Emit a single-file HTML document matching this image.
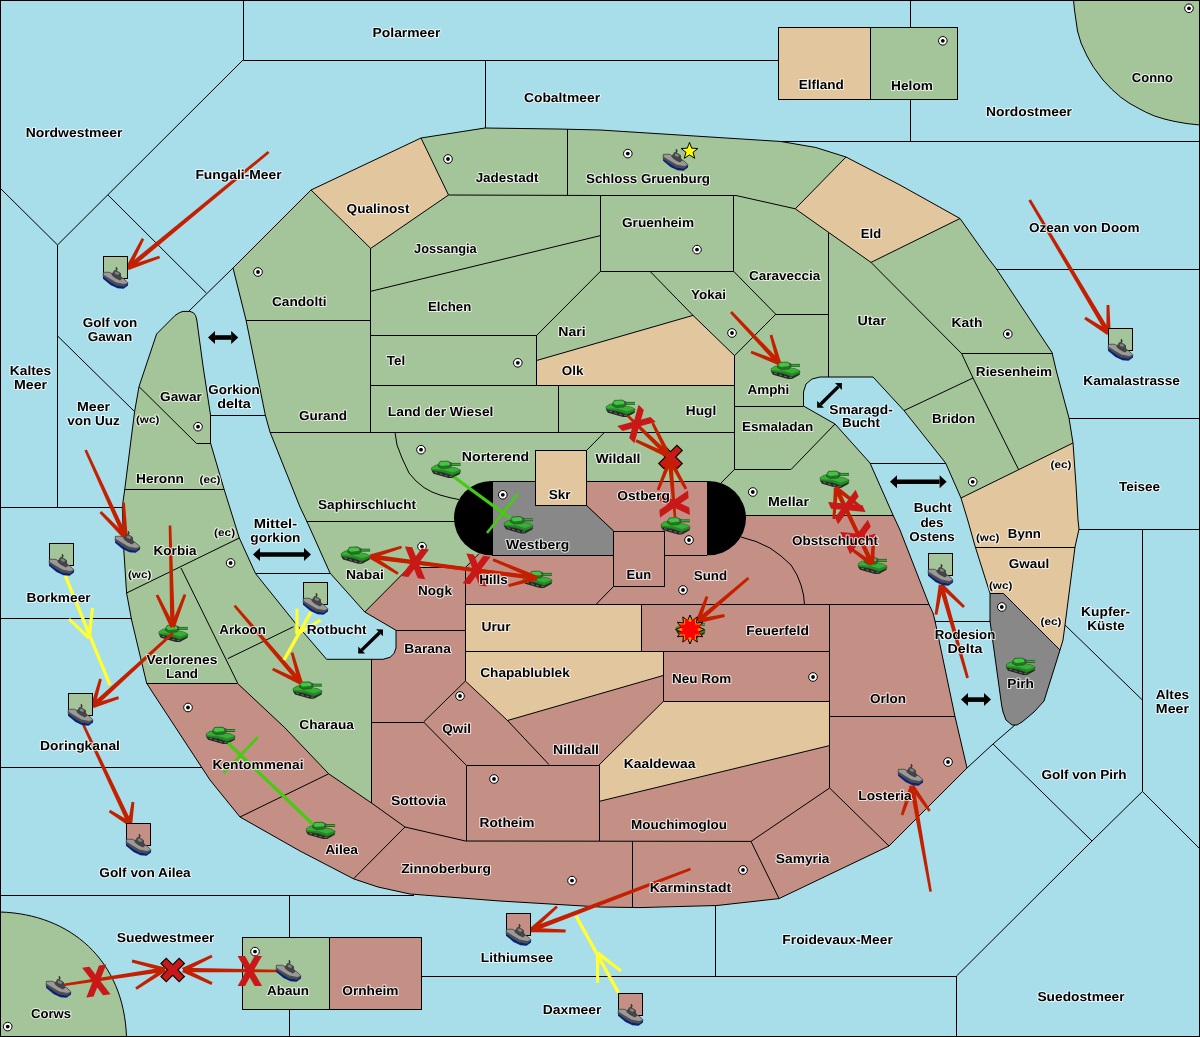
<!DOCTYPE html>
<html><head><meta charset="utf-8"><title>Map</title>
<style>html,body{margin:0;padding:0;background:#A8DDEA}svg{display:block}</style></head>
<body><svg width="1200" height="1037" viewBox="0 0 1200 1037" text-rendering="geometricPrecision">
<rect width="1200" height="1037" fill="#A8DDEA"/>
<g>
<polygon points="233.0,268.0 311.0,190.0 421.0,138.0 485.0,128.0 557.0,129.0 600.0,130.0 781.0,141.5 815.8,147.5 846.0,157.0 900.0,185.0 960.0,218.5 988.0,258.0 996.5,269.0 1052.0,352.5 1056.6,372.0 1069.0,418.0 1073.0,443.0 1076.0,485.0 1078.0,520.0 1079.0,529.0 1075.0,547.0 1065.0,625.0 1063.0,640.0 1060.0,650.0 1044.0,701.0 1034.0,712.0 1022.0,722.0 1017.0,725.0 1012.0,725.0 1006.0,720.0 1003.0,712.0 1001.6,705.0 990.0,621.0 990.0,593.4 975.0,546.0 967.7,520.0 961.0,498.0 945.6,463.0 904.0,410.6 873.0,377.0 820.0,377.0 812.0,379.0 806.0,384.0 803.5,392.0 803.5,406.0 835.0,424.0 870.0,463.0 893.0,515.0 900.0,530.0 929.0,604.4 933.0,613.0 935.0,621.0 955.0,716.6 967.0,768.0 900.0,835.0 889.0,846.0 779.0,898.6 717.0,905.5 640.0,907.6 600.0,907.0 500.0,901.0 410.0,894.0 378.0,887.0 353.5,878.8 300.0,851.0 240.0,817.0 210.0,780.0 151.0,690.0 146.6,683.0 131.6,620.0 126.6,593.0 123.8,550.0 122.3,507.0 124.8,489.0 134.6,411.6 139.0,386.6 156.6,334.0 175.0,315.5 179.5,312.6 183.0,311.4 190.0,311.4 193.5,312.8 195.6,315.6 196.8,320.0 203.0,366.0 210.5,415.0 210.5,443.0 224.0,489.0 239.3,538.0 255.5,573.5 293.6,621.0 326.6,659.3 383.0,659.3 390.0,657.3 394.0,653.5 396.0,648.0 396.0,630.3 364.8,612.0 330.0,573.0 306.7,521.0 300.0,507.0 270.0,432.0 265.4,415.4 246.0,320.0" fill="#A4C499"/>
<polygon points="146.6,683.0 237.6,683.0 284.7,727.6 328.7,773.8 371.5,803.0 371.5,659.3 383.0,659.3 390.0,657.3 394.0,653.5 396.0,648.0 396.0,630.3 364.8,612.0 409.0,567.0 465.4,567.0 479.0,553.6 479.0,518.0 745.0,518.0 745.0,515.0 893.0,515.0 900.0,530.0 929.0,604.4 933.0,613.0 935.0,621.0 955.0,716.6 967.0,768.0 900.0,835.0 889.0,846.0 779.0,898.6 717.0,905.5 640.0,907.6 600.0,907.0 500.0,901.0 410.0,894.0 378.0,887.0 353.5,878.8 300.0,851.0 240.0,817.0 210.0,780.0 151.0,690.0" fill="#C48F85"/>
<polygon points="311.0,190.0 421.0,138.0 448.5,195.0 370.7,248.4" fill="#E2C69E"/>
<polygon points="846.0,157.0 900.0,185.0 960.0,218.5 871.0,262.4 795.3,208.8" fill="#E2C69E"/>
<polygon points="536.6,360.5 693.0,315.4 734.6,355.7 734.6,385.3 536.6,385.3" fill="#E2C69E"/>
<polygon points="961.0,498.0 1073.0,443.0 1076.0,485.0 1078.0,520.0 1079.0,529.0 1075.0,547.0 1065.0,625.0 1063.0,640.0 1060.0,650.0 1003.5,593.4 990.0,593.4 975.0,546.0 967.7,520.0" fill="#E2C69E"/>
<polygon points="990.0,593.4 1003.5,593.4 1060.0,650.0 1044.0,701.0 1034.0,712.0 1022.0,722.0 1017.0,725.0 1012.0,725.0 1006.0,720.0 1003.0,712.0 1001.6,705.0 990.0,621.0" fill="#888888"/>
<polygon points="465.4,604.4 641.4,604.4 641.4,651.0 465.4,651.0" fill="#E2C69E"/>
<polygon points="465.4,651.0 663.6,651.0 663.6,675.4 507.5,720.5 465.4,681.0" fill="#E2C69E"/>
<polygon points="663.6,701.2 829.6,701.2 829.6,745.6 599.0,801.4 599.0,765.0" fill="#E2C69E"/>
<rect x="454" y="481" width="292" height="74.2" rx="37.5" ry="37.1" fill="#000"/>
<polygon points="492.0,481.0 586.5,481.0 586.5,505.4 613.6,531.0 613.6,555.0 492.0,555.0" fill="#888888"/>
<polygon points="586.5,481.0 707.0,481.0 707.0,555.0 664.6,555.0 664.6,531.0 613.6,531.0 586.5,505.4" fill="#C48F85"/>
<polygon points="535.3,450.5 586.5,450.5 586.5,505.4 535.3,505.4" fill="#E2C69E"/>
<path d="M1073.5,0 L1074.5,10 L1077.5,31 L1081,43 L1087,56 L1093.7,67.5 L1103,80 L1111.5,89 L1120.7,97.2 L1129,103 L1137,107.5 L1145.5,112 L1154.5,116 L1165,119.2 L1175,121.5 L1187,123.6 L1200,125 L1200,0 Z" fill="#A4C499" stroke="#000" stroke-linejoin="round"/>
<path d="M0,912 C70,914 124,960 126.5,1037 L0,1037 Z" fill="#A4C499" stroke="#000"/>
<path d="M243.5,0.0 L243.5,60.5 L778.4,60.5 M243.0,60.0 L57.5,245.0 L57.5,507.0 M0.0,188.0 L57.6,245.0 M0.0,507.5 L122.3,507.5 M108.0,195.0 L206.3,293.0 M233.0,268.0 L189.0,311.0 M57.6,336.0 L134.6,411.6 M485.5,60.0 L485.5,128.0 M910.5,0.0 L910.5,141.4 M780.0,141.5 L1200.0,141.5 M996.5,269.5 L1200.0,269.5 M1069.0,418.5 L1200.0,418.5 M1079.0,529.5 L1200.0,529.5 M1142.5,529.4 L1142.5,791.5 L1200.0,849.0 M1065.0,625.0 L1142.4,700.0 M1142.4,791.5 L1092.0,841.0 L956.5,976.0 L956.5,1037.0 M993.0,744.0 L1092.0,841.0 M1015.0,725.0 L993.0,744.0 L967.0,768.0 M421.6,976.5 L956.6,976.5 M715.5,906.0 L715.5,976.0 M0.0,895.5 L414.0,895.5 M289.5,895.3 L289.5,1037.0 M0.0,767.5 L202.0,767.5 M0.0,618.5 L131.3,618.5 M210.0,415.5 L265.4,415.5 M255.5,573.5 L330.0,573.5 M870.0,463.5 L945.6,463.5 M935.0,621.5 L990.0,621.5 M233.0,268.0 L311.0,190.0 L421.0,138.0 L485.0,128.0 L557.0,129.0 L600.0,130.0 L781.0,141.5 L815.8,147.5 L846.0,157.0 L900.0,185.0 L960.0,218.5 L988.0,258.0 L996.5,269.0 L1052.0,352.5 L1056.6,372.0 L1069.0,418.0 L1073.0,443.0 L1076.0,485.0 L1078.0,520.0 L1079.0,529.0 L1075.0,547.0 L1065.0,625.0 L1063.0,640.0 L1060.0,650.0 L1044.0,701.0 L1034.0,712.0 L1022.0,722.0 L1017.0,725.0 L1012.0,725.0 L1006.0,720.0 L1003.0,712.0 L1001.6,705.0 L990.0,621.0 L990.0,593.4 L975.0,546.0 L967.7,520.0 L961.0,498.0 L945.6,463.0 L904.0,410.6 L873.0,377.0 L820.0,377.0 L812.0,379.0 L806.0,384.0 L803.5,392.0 L803.5,406.0 L835.0,424.0 L870.0,463.0 L893.0,515.0 L900.0,530.0 L929.0,604.4 L933.0,613.0 L935.0,621.0 L955.0,716.6 L967.0,768.0 L900.0,835.0 L889.0,846.0 L779.0,898.6 L717.0,905.5 L640.0,907.6 L600.0,907.0 L500.0,901.0 L410.0,894.0 L378.0,887.0 L353.5,878.8 L300.0,851.0 L240.0,817.0 L210.0,780.0 L151.0,690.0 L146.6,683.0 L131.6,620.0 L126.6,593.0 L123.8,550.0 L122.3,507.0 L124.8,489.0 L134.6,411.6 L139.0,386.6 L156.6,334.0 L175.0,315.5 L179.5,312.6 L183.0,311.4 L190.0,311.4 L193.5,312.8 L195.6,315.6 L196.8,320.0 L203.0,366.0 L210.5,415.0 L210.5,443.0 L224.0,489.0 L239.3,538.0 L255.5,573.5 L293.6,621.0 L326.6,659.3 L383.0,659.3 L390.0,657.3 L394.0,653.5 L396.0,648.0 L396.0,630.3 L364.8,612.0 L330.0,573.0 L306.7,521.0 L300.0,507.0 L270.0,432.0 L265.4,415.4 L246.0,320.0 Z M311.0,190.0 L370.7,248.4 L448.5,195.0 L421.0,138.0 M448.5,195.0 L600.5,195.5 M567.5,129.0 L567.5,195.3 M370.5,248.4 L370.5,432.3 M370.7,291.3 L600.5,235.6 M600.5,195.5 L600.5,271.3 M600.5,195.5 L736.0,195.5 L795.3,208.8 L846.0,157.0 M733.5,195.5 L733.5,271.3 M600.5,271.5 L733.6,271.5 M795.3,208.8 L871.0,262.4 L960.0,218.5 M871.0,262.4 L961.6,353.5 M828.5,233.0 L828.5,377.0 M246.0,320.5 L370.7,320.5 M270.0,432.5 L734.6,432.5 M370.7,335.5 L536.6,335.5 L600.5,271.3 M536.5,335.2 L536.5,385.3 M370.7,385.5 L734.6,385.5 M536.6,360.5 L693.0,315.4 M650.0,271.3 L693.0,315.4 L734.6,355.7 M733.6,271.3 L776.0,314.5 L828.5,314.5 M776.0,314.0 L734.5,355.7 L734.5,469.3 M558.5,385.3 L558.5,432.3 M734.6,406.5 L803.5,406.5 M734.6,469.5 L791.0,469.5 L835.0,424.0 M734.6,469.3 L721.0,483.0 M586.5,450.5 L604.5,432.3 M395.0,432.3 L397.0,445.0 L402.0,458.0 L409.0,473.0 L416.0,481.0 L424.0,487.6 L432.0,492.0 L440.0,495.0 L450.0,497.7 L459.0,499.5 M961.6,353.5 L1052.6,353.5 M961.6,353.5 L973.0,378.0 L1018.6,469.6 M904.0,410.6 L973.0,378.0 M961.0,498.0 L1073.0,443.0 M975.6,547.5 L1075.0,547.5 M990.0,593.5 L1003.5,593.5 L1060.0,650.0 M139.0,386.6 L196.5,443.5 L210.5,443.5 M124.8,489.5 L224.0,489.5 M126.6,593.0 L239.3,538.0 M181.0,568.0 L237.6,683.0 M146.6,683.5 L237.6,683.5 L284.7,727.6 L328.7,773.8 L371.5,803.0 L405.0,827.0 M227.8,658.6 L293.6,626.7 M240.0,817.0 L328.7,773.8 M353.5,878.8 L405.0,827.0 L465.4,841.0 L751.0,841.4 M371.5,659.0 L371.5,803.0 M371.5,722.5 L423.6,722.5 M306.7,521.5 L455.0,521.5 M364.8,612.0 L409.0,567.5 L465.4,567.5 L479.0,553.6 M465.5,567.0 L465.5,681.0 M396.0,630.5 L465.4,630.5 M465.4,604.5 L929.0,604.5 M465.4,651.5 L829.6,651.5 M641.5,604.4 L641.5,651.0 M663.5,651.0 L663.5,701.5 L829.6,701.5 M829.5,604.4 L829.5,788.0 M829.6,716.5 L955.0,716.5 M465.4,681.0 L507.5,720.5 L663.6,675.4 M423.6,722.0 L465.4,681.0 M507.5,720.5 L549.0,764.6 M423.6,722.0 L466.0,765.0 M466.5,841.0 L466.5,765.5 L599.5,765.5 L599.5,841.0 M663.6,701.2 L599.0,765.0 M829.6,745.6 L599.0,801.4 M632.5,841.4 L632.5,907.0 M751.0,841.4 L779.0,898.6 M751.0,841.4 L829.6,788.0 L889.0,846.0 M745.0,515.5 L893.0,515.5 M741.0,537.0 L756.0,541.5 L770.0,548.0 L781.0,556.0 L791.0,565.0 L797.0,575.0 L801.0,585.0 L803.5,595.0 L804.5,604.4 M613.6,586.4 L596.0,604.4 M492.5,481.0 L492.5,555.0 M707.5,481.0 L707.5,555.0 M492.0,555.5 L613.6,555.5 M664.6,555.5 L707.0,555.5 M586.5,481.5 L707.0,481.5 M492.0,481.5 L535.3,481.5 M586.5,505.4 L613.6,531.0" fill="none" stroke="#000" stroke-width="1"/>
<rect x="535.5" y="450.5" width="51.0" height="55.0" fill="#E2C69E" stroke="#000"/>
<rect x="613.5" y="531.5" width="51.0" height="55.0" fill="#C48F85" stroke="#000"/>
<rect x="778.5" y="27.5" width="92.0" height="72.0" fill="#E2C69E" stroke="#000"/>
<rect x="870.5" y="27.5" width="87.0" height="72.0" fill="#A4C499" stroke="#000"/>
<rect x="242.5" y="937.5" width="87.0" height="72.0" fill="#A4C499" stroke="#000"/>
<rect x="329.5" y="937.5" width="92.0" height="72.0" fill="#C48F85" stroke="#000"/>
<circle cx="448.0" cy="159.0" r="4.3" fill="#fff" stroke="#000" stroke-width="1"/><circle cx="448.0" cy="159.0" r="1.9" fill="#000"/>
<circle cx="627.8" cy="153.6" r="4.3" fill="#fff" stroke="#000" stroke-width="1"/><circle cx="627.8" cy="153.6" r="1.9" fill="#000"/>
<circle cx="697.0" cy="249.6" r="4.3" fill="#fff" stroke="#000" stroke-width="1"/><circle cx="697.0" cy="249.6" r="1.9" fill="#000"/>
<circle cx="942.8" cy="40.8" r="4.3" fill="#fff" stroke="#000" stroke-width="1"/><circle cx="942.8" cy="40.8" r="1.9" fill="#000"/>
<circle cx="1189.0" cy="8.3" r="4.3" fill="#fff" stroke="#000" stroke-width="1"/><circle cx="1189.0" cy="8.3" r="1.9" fill="#000"/>
<circle cx="258.0" cy="272.0" r="4.3" fill="#fff" stroke="#000" stroke-width="1"/><circle cx="258.0" cy="272.0" r="1.9" fill="#000"/>
<circle cx="198.0" cy="426.7" r="4.3" fill="#fff" stroke="#000" stroke-width="1"/><circle cx="198.0" cy="426.7" r="1.9" fill="#000"/>
<circle cx="517.8" cy="362.8" r="4.3" fill="#fff" stroke="#000" stroke-width="1"/><circle cx="517.8" cy="362.8" r="1.9" fill="#000"/>
<circle cx="421.0" cy="449.7" r="4.3" fill="#fff" stroke="#000" stroke-width="1"/><circle cx="421.0" cy="449.7" r="1.9" fill="#000"/>
<circle cx="502.8" cy="494.8" r="4.3" fill="#fff" stroke="#000" stroke-width="1"/><circle cx="502.8" cy="494.8" r="1.9" fill="#000"/>
<circle cx="732.0" cy="333.0" r="4.3" fill="#fff" stroke="#000" stroke-width="1"/><circle cx="732.0" cy="333.0" r="1.9" fill="#000"/>
<circle cx="752.8" cy="492.0" r="4.3" fill="#fff" stroke="#000" stroke-width="1"/><circle cx="752.8" cy="492.0" r="1.9" fill="#000"/>
<circle cx="1007.8" cy="334.0" r="4.3" fill="#fff" stroke="#000" stroke-width="1"/><circle cx="1007.8" cy="334.0" r="1.9" fill="#000"/>
<circle cx="972.7" cy="481.8" r="4.3" fill="#fff" stroke="#000" stroke-width="1"/><circle cx="972.7" cy="481.8" r="1.9" fill="#000"/>
<circle cx="230.6" cy="563.0" r="4.3" fill="#fff" stroke="#000" stroke-width="1"/><circle cx="230.6" cy="563.0" r="1.9" fill="#000"/>
<circle cx="188.0" cy="707.5" r="4.3" fill="#fff" stroke="#000" stroke-width="1"/><circle cx="188.0" cy="707.5" r="1.9" fill="#000"/>
<circle cx="422.0" cy="546.6" r="4.3" fill="#fff" stroke="#000" stroke-width="1"/><circle cx="422.0" cy="546.6" r="1.9" fill="#000"/>
<circle cx="460.0" cy="696.0" r="4.3" fill="#fff" stroke="#000" stroke-width="1"/><circle cx="460.0" cy="696.0" r="1.9" fill="#000"/>
<circle cx="494.0" cy="779.0" r="4.3" fill="#fff" stroke="#000" stroke-width="1"/><circle cx="494.0" cy="779.0" r="1.9" fill="#000"/>
<circle cx="689.0" cy="540.0" r="4.3" fill="#fff" stroke="#000" stroke-width="1"/><circle cx="689.0" cy="540.0" r="1.9" fill="#000"/>
<circle cx="683.0" cy="590.0" r="4.3" fill="#fff" stroke="#000" stroke-width="1"/><circle cx="683.0" cy="590.0" r="1.9" fill="#000"/>
<circle cx="813.0" cy="677.0" r="4.3" fill="#fff" stroke="#000" stroke-width="1"/><circle cx="813.0" cy="677.0" r="1.9" fill="#000"/>
<circle cx="1001.8" cy="607.0" r="4.3" fill="#fff" stroke="#000" stroke-width="1"/><circle cx="1001.8" cy="607.0" r="1.9" fill="#000"/>
<circle cx="948.0" cy="762.0" r="4.3" fill="#fff" stroke="#000" stroke-width="1"/><circle cx="948.0" cy="762.0" r="1.9" fill="#000"/>
<circle cx="7.7" cy="1026.6" r="4.3" fill="#fff" stroke="#000" stroke-width="1"/><circle cx="7.7" cy="1026.6" r="1.9" fill="#000"/>
<circle cx="255.0" cy="951.6" r="4.3" fill="#fff" stroke="#000" stroke-width="1"/><circle cx="255.0" cy="951.6" r="1.9" fill="#000"/>
<circle cx="572.0" cy="880.6" r="4.3" fill="#fff" stroke="#000" stroke-width="1"/><circle cx="572.0" cy="880.6" r="1.9" fill="#000"/>
<circle cx="743.0" cy="870.0" r="4.3" fill="#fff" stroke="#000" stroke-width="1"/><circle cx="743.0" cy="870.0" r="1.9" fill="#000"/>
<line x1="215.0" y1="337.5" x2="231.2" y2="337.5" stroke="#000" stroke-width="4.6"/>
<polygon points="208.0,337.5 215.0,344.0 215.0,331.0" fill="#000"/>
<polygon points="238.2,337.5 231.2,344.0 231.2,331.0" fill="#000"/>
<line x1="260.0" y1="554.5" x2="304.0" y2="554.5" stroke="#000" stroke-width="4.6"/>
<polygon points="253.0,554.5 260.0,561.0 260.0,548.0" fill="#000"/>
<polygon points="311.0,554.5 304.0,561.0 304.0,548.0" fill="#000"/>
<line x1="820.6" y1="404.2" x2="838.4" y2="386.6" stroke="#000" stroke-width="3.4"/>
<polygon points="817.1,407.7 824.0,407.7 817.1,400.8" fill="#000"/>
<polygon points="841.9,383.1 841.9,390.0 835.0,383.1" fill="#000"/>
<line x1="897.0" y1="481.8" x2="939.6" y2="481.8" stroke="#000" stroke-width="4.6"/>
<polygon points="890.0,481.8 897.0,488.3 897.0,475.3" fill="#000"/>
<polygon points="946.6,481.8 939.6,488.3 939.6,475.3" fill="#000"/>
<line x1="361.7" y1="650.1" x2="379.5" y2="632.8" stroke="#000" stroke-width="3.4"/>
<polygon points="358.2,653.5 365.1,653.6 358.3,646.6" fill="#000"/>
<polygon points="383.0,629.4 382.9,636.3 376.1,629.3" fill="#000"/>
<line x1="968.0" y1="699.6" x2="984.0" y2="699.6" stroke="#000" stroke-width="4.6"/>
<polygon points="961.0,699.6 968.0,706.1 968.0,693.1" fill="#000"/>
<polygon points="991.0,699.6 984.0,706.1 984.0,693.1" fill="#000"/>
<defs>
<g id="tank">
<polygon points="0,8 0.5,10.5 2,12.7 17,17 21,17 28.7,12.7 28.7,10 20,13 4,8" fill="#262626"/>
<path d="M3,11 l3,1 M8,12.6 l3,1 M13,14 l3,1 M18,15.3 l3,0" stroke="#6a6a6a" stroke-width="1"/>
<polygon points="0,6.8 4,4.2 8,4 20,6 25,7 29,9 28.6,11.3 21,14.5 12,11.5 0.4,9.6" fill="#258a25" stroke="#1c641c" stroke-width="0.6"/>
<polygon points="0.4,6.9 4,4.6 8,4.4 20,6.3 25,7.3 28.4,9 21,11.4 12,8.8 0.6,8.2" fill="#38b038"/>
<polygon points="6.4,3.5 8.5,0.4 16,0 19,1.5 20,5 18,7 10,7.6 6.5,5.6" fill="#1f781f" stroke="#175217" stroke-width="0.6"/>
<polygon points="7.2,3.3 8.9,0.9 15.8,0.6 18.4,1.9 19,4 10,4.9" fill="#44c444"/>
<rect x="19.3" y="1.9" width="9.7" height="2.9" fill="#176017"/>
<rect x="20" y="2.7" width="9" height="1.1" fill="#3cb83c"/>
<rect x="18.3" y="1.4" width="2" height="3.8" fill="#4a4a4a"/>
</g>
<g id="ship">
<path d="M13.3,0 V5.5 M11.6,4.2 L12.6,3.2 M13.3,2.6 L14.8,1.8" stroke="#262626" stroke-width="1" fill="none"/>
<polygon points="0.3,5.4 5,5.2 7.5,5.6 9.7,7.5 12,10 16,12 17,9.5 21,12 24.8,15.6 25,16.6 21,19.4 13.5,18.4 7.5,15 0.2,9.8" fill="#9a9a9a" stroke="#333" stroke-width="0.7"/>
<polygon points="0.2,7.4 7.5,12 13.5,15.4 21,17 24.8,15.8 25,16.6 21,19.4 13.5,18.4 7.5,15 0.2,9.8" fill="#4e4e4e"/>
<polygon points="8,6.2 10,5.5 11,3.2 13,3.6 15.5,4.5 18,6.5 18,9 19.5,11.5 17,13.5 12,11 9,8.6" fill="#444"/>
<polygon points="11.5,5.6 12.6,4.6 14.6,5 16.4,6.6 15,8 12.4,7.2" fill="#808080"/>
<polygon points="0.2,9.8 7.5,15 13.5,18.4 21,19.4 25,16.6 25,18.4 20.5,21.8 14.5,21.2 7.5,17.9 0,11.7" fill="#0a2378"/>
</g>
</defs>
<use href="#tank" x="771.0" y="362.0"/>
<use href="#tank" x="606.0" y="400.0"/>
<use href="#tank" x="820.0" y="471.0"/>
<use href="#tank" x="431.5" y="461.0"/>
<use href="#tank" x="504.0" y="516.5"/>
<use href="#tank" x="661.0" y="517.5"/>
<use href="#tank" x="341.1" y="546.8"/>
<use href="#tank" x="523.0" y="571.0"/>
<use href="#tank" x="858.0" y="557.0"/>
<use href="#tank" x="158.9" y="625.0"/>
<use href="#tank" x="206.1" y="727.1"/>
<use href="#tank" x="293.0" y="681.8"/>
<use href="#tank" x="306.1" y="822.1"/>
<use href="#tank" x="1006.1" y="658.0"/>
<use href="#tank" x="676.0" y="621.0"/>
<path d="M661.0,447.5 l19.0,19.0 M680.0,447.5 l-19.0,19.0" stroke="#000" stroke-width="8.6" fill="none"/>
<path d="M661.8,448.3 l17.4,17.4 M679.2,448.3 l-17.4,17.4" stroke="#C81818" stroke-width="6.4" fill="none"/>
<path d="M163.2,960.5 l19.0,19.0 M182.2,960.5 l-19.0,19.0" stroke="#000" stroke-width="8.6" fill="none"/>
<path d="M164.0,961.3 l17.4,17.4 M181.4,961.3 l-17.4,17.4" stroke="#C81818" stroke-width="6.4" fill="none"/>
<polygon points="267.7,151.0 126.5,266.2 129.5,269.8 269.5,153.0" fill="#C42000"/>
<polygon points="141.8,238.0 126.0,267.0 130.0,269.0 144.2,239.2" fill="#C42000"/>
<polygon points="159.1,255.7 127.3,265.9 128.7,270.1 160.1,258.3" fill="#C42000"/>
<polygon points="1028.4,200.7 1106.5,334.2 1110.5,331.8 1030.8,199.3" fill="#C42000"/>
<polygon points="1106.6,305.0 1106.3,333.0 1110.7,333.0 1109.4,305.0" fill="#C42000"/>
<polygon points="1084.2,319.2 1107.3,334.9 1109.7,331.1 1085.8,316.8" fill="#C42000"/>
<polygon points="730.0,312.9 777.3,364.6 780.7,361.4 732.0,311.1" fill="#C42000"/>
<polygon points="769.7,335.4 776.9,363.6 781.1,362.4 772.3,334.6" fill="#C42000"/>
<polygon points="750.5,353.3 778.2,365.0 779.8,361.0 751.5,350.7" fill="#C42000"/>
<polygon points="84.4,450.6 123.4,538.6 127.6,536.6 86.8,449.4" fill="#C42000"/>
<polygon points="122.1,502.7 123.3,537.7 127.7,537.5 124.9,502.5" fill="#C42000"/>
<polygon points="99.5,513.0 123.9,539.1 127.1,536.1 101.5,511.0" fill="#C42000"/>
<polygon points="168.7,525.5 170.3,627.1 174.9,626.9 171.3,525.5" fill="#C42000"/>
<polygon points="155.7,595.6 170.6,628.0 174.6,626.0 158.3,594.4" fill="#C42000"/>
<polygon points="183.7,594.1 170.5,626.2 174.7,627.8 186.3,595.1" fill="#C42000"/>
<polygon points="172.1,632.0 91.4,704.3 94.6,707.7 173.9,634.0" fill="#C42000"/>
<polygon points="99.2,678.6 90.9,705.4 95.1,706.6 101.8,679.4" fill="#C42000"/>
<polygon points="118.2,696.3 92.3,703.9 93.7,708.1 119.0,698.9" fill="#C42000"/>
<polygon points="82.3,725.6 127.9,825.0 132.1,823.0 84.7,724.4" fill="#C42000"/>
<polygon points="108.8,812.2 128.8,825.9 131.2,822.1 110.2,809.8" fill="#C42000"/>
<polygon points="131.6,801.8 127.8,823.7 132.2,824.3 134.4,802.2" fill="#C42000"/>
<polygon points="233.6,606.5 298.8,684.1 302.4,681.1 235.6,604.7" fill="#C42000"/>
<polygon points="290.7,653.0 298.5,683.2 302.7,682.0 293.3,652.2" fill="#C42000"/>
<polygon points="272.0,670.3 299.6,684.6 301.6,680.6 273.2,667.7" fill="#C42000"/>
<polygon points="537.2,576.7 370.9,554.3 370.3,558.9 536.8,579.3" fill="#C42000"/>
<polygon points="401.2,545.7 369.9,554.5 371.3,558.7 402.0,548.3" fill="#C42000"/>
<polygon points="398.7,572.4 371.8,554.7 369.4,558.5 397.3,574.8" fill="#C42000"/>
<polygon points="369.8,558.3 536.7,580.3 537.3,575.7 370.2,555.7" fill="#C42000"/>
<polygon points="492.5,560.9 536.2,580.0 537.8,576.0 493.5,558.3" fill="#C42000"/>
<polygon points="509.0,587.0 537.6,580.1 536.4,575.9 508.2,584.2" fill="#C42000"/>
<polygon points="627.1,417.0 667.4,457.7 670.6,454.3 628.9,415.0" fill="#C42000"/>
<polygon points="651.3,423.6 667.0,457.0 671.0,455.0 653.9,422.4" fill="#C42000"/>
<polygon points="635.4,441.9 668.1,458.0 669.9,454.0 636.6,439.3" fill="#C42000"/>
<polygon points="676.3,516.9 672.3,459.8 667.7,460.2 673.7,517.1" fill="#C42000"/>
<polygon points="659.3,490.5 672.0,460.8 668.0,459.2 656.7,489.5" fill="#C42000"/>
<polygon points="687.2,488.3 671.9,458.9 668.1,461.1 684.8,489.7" fill="#C42000"/>
<polygon points="834.8,487.6 869.9,565.0 874.1,563.0 837.2,486.4" fill="#C42000"/>
<polygon points="872.6,533.9 869.8,563.9 874.2,564.1 875.4,534.1" fill="#C42000"/>
<polygon points="846.9,547.5 870.7,565.8 873.3,562.2 848.5,545.3" fill="#C42000"/>
<polygon points="873.2,563.4 838.1,487.0 833.9,489.0 870.8,564.6" fill="#C42000"/>
<polygon points="835.3,519.1 838.2,488.1 833.8,487.9 832.5,518.9" fill="#C42000"/>
<polygon points="861.2,505.5 837.3,486.3 834.7,489.7 859.4,507.7" fill="#C42000"/>
<polygon points="968.9,677.6 943.3,584.4 938.7,585.6 966.3,678.4" fill="#C42000"/>
<polygon points="937.4,614.8 943.2,585.4 938.8,584.6 934.6,614.4" fill="#C42000"/>
<polygon points="965.0,606.0 942.5,583.4 939.5,586.6 963.0,608.0" fill="#C42000"/>
<polygon points="747.6,577.0 696.5,619.2 699.5,622.8 749.4,579.0" fill="#C42000"/>
<polygon points="705.7,596.0 695.9,620.2 700.1,621.8 708.3,597.0" fill="#C42000"/>
<polygon points="724.2,614.1 697.6,618.8 698.4,623.2 724.8,616.9" fill="#C42000"/>
<polygon points="931.9,891.4 914.3,785.6 909.7,786.4 929.3,891.8" fill="#C42000"/>
<polygon points="903.3,815.5 914.1,786.7 909.9,785.3 900.7,814.5" fill="#C42000"/>
<polygon points="930.7,810.2 913.8,784.7 910.2,787.3 928.5,811.8" fill="#C42000"/>
<polygon points="690.0,867.7 530.2,927.8 531.8,932.2 691.0,870.3" fill="#C42000"/>
<polygon points="556.1,905.6 529.5,928.4 532.5,931.6 557.9,907.6" fill="#C42000"/>
<polygon points="565.6,929.6 531.1,927.8 530.9,932.2 565.6,932.4" fill="#C42000"/>
<polygon points="63.2,986.3 165.4,971.8 164.6,967.2 62.8,983.7" fill="#C42000"/>
<polygon points="131.7,962.4 164.5,971.6 165.5,967.4 132.3,959.6" fill="#C42000"/>
<polygon points="136.8,989.8 166.2,971.3 163.8,967.7 135.2,987.4" fill="#C42000"/>
<polygon points="277.0,969.7 183.0,967.7 183.0,972.3 277.0,972.3" fill="#C42000"/>
<polygon points="211.4,954.7 182.0,968.0 184.0,972.0 212.6,957.3" fill="#C42000"/>
<polygon points="212.6,982.3 183.9,968.0 182.1,972.0 211.4,984.9" fill="#C42000"/>
<polygon points="63.4,575.6 108.4,685.6 111.6,684.4 66.6,574.4" fill="#FFFF33"/>
<polygon points="68.0,620.1 87.8,639.3 90.2,636.7 70.0,617.9" fill="#FFFF33"/>
<polygon points="91.0,607.8 87.2,637.8 90.8,638.2 94.0,608.2" fill="#FFFF33"/>
<polygon points="309.5,611.2 282.5,659.2 285.5,660.8 312.5,612.8" fill="#FFFF33"/>
<polygon points="295.5,608.6 295.2,634.0 298.8,634.0 298.5,608.6" fill="#FFFF33"/>
<polygon points="319.8,618.7 296.1,632.5 297.9,635.5 321.4,621.3" fill="#FFFF33"/>
<polygon points="620.1,992.2 577.5,915.2 574.5,916.8 617.1,993.8" fill="#FFFF33"/>
<polygon points="599.1,983.0 599.4,953.0 595.8,953.0 596.1,983.0" fill="#FFFF33"/>
<polygon points="621.9,969.8 598.7,951.6 596.5,954.4 620.1,972.2" fill="#FFFF33"/>
<line x1="454.0" y1="477.0" x2="510.0" y2="518.0" stroke="#44CC11" stroke-width="3.2"/>
<line x1="518.0" y1="494.0" x2="487.0" y2="533.0" stroke="#44CC11" stroke-width="2.6"/>
<line x1="228.0" y1="743.0" x2="312.6" y2="824.0" stroke="#44CC11" stroke-width="3.2"/>
<line x1="258.0" y1="737.0" x2="223.6" y2="773.0" stroke="#44CC11" stroke-width="2.6"/>
<polygon points="82.1,967.8 89.5,966.8 110.5,994.2 103.1,995.2" fill="#C81818"/><polygon points="106.3,964.5 99.0,965.5 86.3,997.5 93.6,996.5" fill="#C81818"/>
<polygon points="262.0,986.0 254.6,986.0 237.6,956.0 245.0,956.0" fill="#C81818"/><polygon points="237.6,986.0 245.0,986.0 262.0,956.0 254.6,956.0" fill="#C81818"/>
<polygon points="404.8,546.4 412.2,547.3 425.2,579.2 417.8,578.3" fill="#C81818"/><polygon points="429.0,549.5 421.7,548.5 401.0,576.1 408.3,577.1" fill="#C81818"/>
<polygon points="466.4,553.6 473.8,554.5 486.8,586.4 479.4,585.5" fill="#C81818"/><polygon points="490.6,556.7 483.3,555.7 462.6,583.3 469.9,584.3" fill="#C81818"/>
<polygon points="638.6,404.8 643.8,410.0 634.4,443.2 629.2,438.0" fill="#C81818"/><polygon points="655.7,422.1 650.5,416.9 617.3,425.9 622.5,431.1" fill="#C81818"/>
<polygon points="660.0,517.4 659.4,510.0 688.0,490.6 688.6,498.0" fill="#C81818"/><polygon points="658.1,493.0 658.7,500.4 689.9,515.0 689.3,507.6" fill="#C81818"/>
<polygon points="855.6,489.8 858.6,496.5 838.0,524.2 835.0,517.5" fill="#C81818"/><polygon points="865.5,512.1 862.5,505.3 828.1,501.9 831.1,508.7" fill="#C81818"/>
<polygon points="867.8,519.8 870.8,526.5 850.2,554.2 847.2,547.5" fill="#C81818"/><polygon points="877.7,542.1 874.7,535.3 840.3,531.9 843.3,538.7" fill="#C81818"/>
<polygon points="689.5,142.4 691.7,148.2 697.9,148.5 693.0,152.3 694.7,158.3 689.5,154.9 684.3,158.3 686.0,152.3 681.1,148.5 687.3,148.2" fill="#FFFF00" stroke="#000" stroke-width="1"/>
<polygon points="690.0,615.0 692.4,620.6 697.2,616.9 696.5,623.0 702.6,622.2 698.9,627.1 704.5,629.5 698.9,631.9 702.6,636.8 696.5,636.0 697.2,642.1 692.4,638.4 690.0,644.0 687.6,638.4 682.8,642.1 683.5,636.0 677.4,636.8 681.1,631.9 675.5,629.5 681.1,627.1 677.4,622.2 683.5,623.0 682.8,616.9 687.6,620.6" fill="#FF8000" stroke="#000" stroke-width="1"/>
<polygon points="694.9,618.0 695.1,624.5 701.6,624.8 697.2,629.6 701.5,634.4 695.0,634.6 694.7,641.1 689.9,636.7 685.1,641.0 684.9,634.5 678.4,634.2 682.8,629.4 678.5,624.6 685.0,624.4 685.3,617.9 690.1,622.3" fill="#FF0000"/>
<rect x="1108.5" y="328.5" width="24" height="22" fill="#A4C499" stroke="#000"/>
<use href="#ship" x="1108.0" y="339.0"/>
<rect x="103.5" y="256.5" width="24" height="22" fill="#A4C499" stroke="#000"/>
<use href="#ship" x="103.0" y="267.0"/>
<rect x="49.5" y="543.5" width="24" height="22" fill="#A4C499" stroke="#000"/>
<use href="#ship" x="49.0" y="554.0"/>
<rect x="68.5" y="693.5" width="24" height="22" fill="#A4C499" stroke="#000"/>
<use href="#ship" x="68.0" y="704.0"/>
<rect x="303.5" y="582.5" width="24" height="22" fill="#A4C499" stroke="#000"/>
<use href="#ship" x="303.0" y="593.0"/>
<rect x="928.5" y="553.5" width="24" height="22" fill="#A4C499" stroke="#000"/>
<use href="#ship" x="928.0" y="564.0"/>
<rect x="126.5" y="823.5" width="24" height="22" fill="#C48F85" stroke="#000"/>
<use href="#ship" x="126.0" y="834.0"/>
<rect x="506.5" y="913.5" width="24" height="22" fill="#C48F85" stroke="#000"/>
<use href="#ship" x="506.0" y="924.0"/>
<rect x="618.5" y="993.5" width="24" height="22" fill="#C48F85" stroke="#000"/>
<use href="#ship" x="618.0" y="1004.0"/>
<use href="#ship" x="663.0" y="149.0"/>
<use href="#ship" x="115.0" y="531.0"/>
<use href="#ship" x="46.0" y="976.0"/>
<use href="#ship" x="276.0" y="960.0"/>
<use href="#ship" x="898.0" y="764.0"/>
<g font-family="'Liberation Sans', sans-serif" font-weight="bold" text-anchor="middle" fill="#000" stroke="#fff" stroke-opacity="0.75" stroke-width="2" stroke-linejoin="round" paint-order="stroke" style="paint-order:stroke" opacity="0.999">
<text transform="translate(406.5,32.6) scale(1.067,1)" font-size="13" y="4.7">Polarmeer</text>
<text transform="translate(562.0,97.0) scale(1.063,1)" font-size="13" y="4.7">Cobaltmeer</text>
<text transform="translate(74.0,132.0) scale(1.071,1)" font-size="13" y="4.7">Nordwestmeer</text>
<text transform="translate(238.5,174.5) scale(1.065,1)" font-size="13" y="4.7">Fungali-Meer</text>
<text transform="translate(1029.0,111.5) scale(1.063,1)" font-size="13" y="4.7">Nordostmeer</text>
<text transform="translate(1084.2,227.6) scale(1.041,1)" font-size="13" y="4.7">Ozean von Doom</text>
<text transform="translate(110.0,322.6) scale(1.035,1)" font-size="13" y="4.7">Golf von</text>
<text transform="translate(110.0,336.0) scale(1.040,1)" font-size="13" y="4.7">Gawan</text>
<text transform="translate(30.5,370.5) scale(1.058,1)" font-size="13" y="4.7">Kaltes</text>
<text transform="translate(30.5,384.5) scale(1.092,1)" font-size="13" y="4.7">Meer</text>
<text transform="translate(93.5,406.6) scale(1.092,1)" font-size="13" y="4.7">Meer</text>
<text transform="translate(93.5,420.5) scale(1.038,1)" font-size="13" y="4.7">von Uuz</text>
<text transform="translate(234.0,389.6) scale(1.030,1)" font-size="13" y="4.7">Gorkion</text>
<text transform="translate(234.0,403.6) scale(1.110,1)" font-size="13" y="4.7">delta</text>
<text transform="translate(275.4,523.6) scale(1.135,1)" font-size="13" y="4.7">Mittel-</text>
<text transform="translate(275.4,537.6) scale(1.052,1)" font-size="13" y="4.7">gorkion</text>
<text transform="translate(58.6,597.4) scale(1.055,1)" font-size="13" y="4.7">Borkmeer</text>
<text transform="translate(336.6,629.5) scale(1.051,1)" font-size="13" y="4.7">Rotbucht</text>
<text transform="translate(80.0,745.6) scale(1.062,1)" font-size="13" y="4.7">Doringkanal</text>
<text transform="translate(145.0,872.6) scale(1.052,1)" font-size="13" y="4.7">Golf von Ailea</text>
<text transform="translate(165.6,937.6) scale(1.066,1)" font-size="13" y="4.7">Suedwestmeer</text>
<text transform="translate(517.0,957.6) scale(1.056,1)" font-size="13" y="4.7">Lithiumsee</text>
<text transform="translate(572.0,1009.6) scale(1.069,1)" font-size="13" y="4.7">Daxmeer</text>
<text transform="translate(837.6,939.6) scale(1.062,1)" font-size="13" y="4.7">Froidevaux-Meer</text>
<text transform="translate(1081.0,996.6) scale(1.058,1)" font-size="13" y="4.7">Suedostmeer</text>
<text transform="translate(1084.0,774.4) scale(1.044,1)" font-size="13" y="4.7">Golf von Pirh</text>
<text transform="translate(1172.4,694.7) scale(1.051,1)" font-size="13" y="4.7">Altes</text>
<text transform="translate(1172.4,708.5) scale(1.092,1)" font-size="13" y="4.7">Meer</text>
<text transform="translate(1105.6,611.7) scale(1.060,1)" font-size="13" y="4.7">Kupfer-</text>
<text transform="translate(1106.0,625.6) scale(1.039,1)" font-size="13" y="4.7">Küste</text>
<text transform="translate(1139.6,486.6) scale(1.039,1)" font-size="13" y="4.7">Teisee</text>
<text transform="translate(1131.6,380.6) scale(1.053,1)" font-size="13" y="4.7">Kamalastrasse</text>
<text transform="translate(861.0,409.0) scale(1.059,1)" font-size="13" y="4.7">Smaragd-</text>
<text transform="translate(861.0,422.4) scale(1.030,1)" font-size="13" y="4.7">Bucht</text>
<text transform="translate(932.8,507.6) scale(1.030,1)" font-size="13" y="4.7">Bucht</text>
<text transform="translate(932.0,522.0) scale(1.035,1)" font-size="13" y="4.7">des</text>
<text transform="translate(932.0,536.6) scale(1.033,1)" font-size="13" y="4.7">Ostens</text>
<text transform="translate(965.0,634.0) scale(1.021,1)" font-size="13" y="4.7">Rodesion</text>
<text transform="translate(965.0,648.6) scale(1.101,1)" font-size="13" y="4.7">Delta</text>
<text transform="translate(821.3,84.2) scale(1.040,1)" font-size="13" y="4.7">Elfland</text>
<text transform="translate(912.0,85.0) scale(1.052,1)" font-size="13" y="4.7">Helom</text>
<text transform="translate(1152.4,77.7) scale(1.000,1)" font-size="13" y="4.7">Conno</text>
<text transform="translate(507.0,177.4) scale(1.033,1)" font-size="13" y="4.7">Jadestadt</text>
<text transform="translate(648.0,178.7) scale(1.028,1)" font-size="13" y="4.7">Schloss Gruenburg</text>
<text transform="translate(378.0,208.5) scale(1.048,1)" font-size="13" y="4.7">Qualinost</text>
<text transform="translate(445.4,248.6) scale(0.984,1)" font-size="13" y="4.7">Jossangia</text>
<text transform="translate(658.0,222.5) scale(1.051,1)" font-size="13" y="4.7">Gruenheim</text>
<text transform="translate(871.0,233.0) scale(1.003,1)" font-size="13" y="4.7">Eld</text>
<text transform="translate(299.3,301.0) scale(1.050,1)" font-size="13" y="4.7">Candolti</text>
<text transform="translate(449.6,306.6) scale(1.017,1)" font-size="13" y="4.7">Elchen</text>
<text transform="translate(784.6,275.5) scale(1.037,1)" font-size="13" y="4.7">Caraveccia</text>
<text transform="translate(708.5,294.6) scale(1.037,1)" font-size="13" y="4.7">Yokai</text>
<text transform="translate(871.7,320.7) scale(1.101,1)" font-size="13" y="4.7">Utar</text>
<text transform="translate(967.0,322.4) scale(1.065,1)" font-size="13" y="4.7">Kath</text>
<text transform="translate(572.0,331.7) scale(1.082,1)" font-size="13" y="4.7">Nari</text>
<text transform="translate(396.0,360.5) scale(1.027,1)" font-size="13" y="4.7">Tel</text>
<text transform="translate(572.7,370.5) scale(1.033,1)" font-size="13" y="4.7">Olk</text>
<text transform="translate(1014.0,371.3) scale(1.046,1)" font-size="13" y="4.7">Riesenheim</text>
<text transform="translate(768.4,389.6) scale(1.033,1)" font-size="13" y="4.7">Amphi</text>
<text transform="translate(181.0,396.6) scale(1.052,1)" font-size="13" y="4.7">Gawar</text>
<text transform="translate(440.6,411.6) scale(1.060,1)" font-size="13" y="4.7">Land der Wiesel</text>
<text transform="translate(323.0,415.0) scale(1.041,1)" font-size="13" y="4.7">Gurand</text>
<text transform="translate(701.0,410.4) scale(1.052,1)" font-size="13" y="4.7">Hugl</text>
<text transform="translate(777.7,426.4) scale(1.038,1)" font-size="13" y="4.7">Esmaladan</text>
<text transform="translate(953.6,418.6) scale(1.033,1)" font-size="13" y="4.7">Bridon</text>
<text transform="translate(495.5,456.4) scale(1.083,1)" font-size="13" y="4.7">Norterend</text>
<text transform="translate(618.0,458.5) scale(1.078,1)" font-size="13" y="4.7">Wildall</text>
<text transform="translate(160.0,478.5) scale(1.055,1)" font-size="13" y="4.7">Heronn</text>
<text transform="translate(559.6,494.6) scale(1.044,1)" font-size="13" y="4.7">Skr</text>
<text transform="translate(643.6,495.6) scale(1.058,1)" font-size="13" y="4.7">Ostberg</text>
<text transform="translate(788.5,501.6) scale(1.094,1)" font-size="13" y="4.7">Mellar</text>
<text transform="translate(367.0,504.0) scale(1.042,1)" font-size="13" y="4.7">Saphirschlucht</text>
<text transform="translate(1024.4,533.6) scale(1.017,1)" font-size="13" y="4.7">Bynn</text>
<text transform="translate(537.6,543.8) scale(1.071,1)" font-size="13" y="4.7">Westberg</text>
<text transform="translate(835.0,540.6) scale(1.035,1)" font-size="13" y="4.7">Obstschlucht</text>
<text transform="translate(175.0,550.5) scale(1.039,1)" font-size="13" y="4.7">Korbia</text>
<text transform="translate(1029.0,563.6) scale(1.038,1)" font-size="13" y="4.7">Gwaul</text>
<text transform="translate(365.0,574.6) scale(1.068,1)" font-size="13" y="4.7">Nabai</text>
<text transform="translate(638.8,574.5) scale(1.000,1)" font-size="13" y="4.7">Eun</text>
<text transform="translate(710.5,575.6) scale(1.025,1)" font-size="13" y="4.7">Sund</text>
<text transform="translate(493.6,579.6) scale(1.044,1)" font-size="13" y="4.7">Hills</text>
<text transform="translate(435.0,590.7) scale(1.041,1)" font-size="13" y="4.7">Nogk</text>
<text transform="translate(496.0,626.5) scale(1.066,1)" font-size="13" y="4.7">Urur</text>
<text transform="translate(242.6,629.5) scale(1.022,1)" font-size="13" y="4.7">Arkoon</text>
<text transform="translate(777.6,630.5) scale(1.070,1)" font-size="13" y="4.7">Feuerfeld</text>
<text transform="translate(427.6,648.6) scale(1.055,1)" font-size="13" y="4.7">Barana</text>
<text transform="translate(182.0,659.6) scale(1.065,1)" font-size="13" y="4.7">Verlorenes</text>
<text transform="translate(182.0,673.0) scale(1.028,1)" font-size="13" y="4.7">Land</text>
<text transform="translate(525.0,672.0) scale(1.050,1)" font-size="13" y="4.7">Chapablublek</text>
<text transform="translate(701.6,678.6) scale(1.036,1)" font-size="13" y="4.7">Neu Rom</text>
<text transform="translate(1020.6,683.6) scale(1.051,1)" font-size="13" y="4.7">Pirh</text>
<text transform="translate(888.0,698.0) scale(1.037,1)" font-size="13" y="4.7">Orlon</text>
<text transform="translate(326.6,724.2) scale(1.047,1)" font-size="13" y="4.7">Charaua</text>
<text transform="translate(456.6,728.0) scale(1.044,1)" font-size="13" y="4.7">Qwil</text>
<text transform="translate(576.0,749.0) scale(1.078,1)" font-size="13" y="4.7">Nilldall</text>
<text transform="translate(659.6,763.6) scale(1.064,1)" font-size="13" y="4.7">Kaaldewaa</text>
<text transform="translate(258.0,764.7) scale(1.058,1)" font-size="13" y="4.7">Kentommenai</text>
<text transform="translate(885.0,795.0) scale(1.057,1)" font-size="13" y="4.7">Losteria</text>
<text transform="translate(418.4,800.6) scale(1.072,1)" font-size="13" y="4.7">Sottovia</text>
<text transform="translate(507.0,822.6) scale(1.055,1)" font-size="13" y="4.7">Rotheim</text>
<text transform="translate(679.0,824.6) scale(1.037,1)" font-size="13" y="4.7">Mouchimoglou</text>
<text transform="translate(341.6,849.7) scale(1.055,1)" font-size="13" y="4.7">Ailea</text>
<text transform="translate(802.6,858.6) scale(1.059,1)" font-size="13" y="4.7">Samyria</text>
<text transform="translate(446.0,868.7) scale(1.062,1)" font-size="13" y="4.7">Zinnoberburg</text>
<text transform="translate(690.4,887.6) scale(1.072,1)" font-size="13" y="4.7">Karminstadt</text>
<text transform="translate(51.0,1013.6) scale(1.007,1)" font-size="13" y="4.7">Corws</text>
<text transform="translate(288.0,990.0) scale(1.034,1)" font-size="13" y="4.7">Abaun</text>
<text transform="translate(370.4,990.6) scale(1.053,1)" font-size="13" y="4.7">Ornheim</text>
<text transform="translate(147.6,419.6) scale(1.111,1)" font-size="10.5" y="3.5">(wc)</text>
<text transform="translate(210.0,479.5) scale(1.123,1)" font-size="10.5" y="3.5">(ec)</text>
<text transform="translate(224.6,532.0) scale(1.123,1)" font-size="10.5" y="3.5">(ec)</text>
<text transform="translate(139.6,574.6) scale(1.111,1)" font-size="10.5" y="3.5">(wc)</text>
<text transform="translate(1061.0,464.5) scale(1.123,1)" font-size="10.5" y="3.5">(ec)</text>
<text transform="translate(987.6,537.6) scale(1.111,1)" font-size="10.5" y="3.5">(wc)</text>
<text transform="translate(1000.6,585.5) scale(1.111,1)" font-size="10.5" y="3.5">(wc)</text>
<text transform="translate(1051.0,621.7) scale(1.123,1)" font-size="10.5" y="3.5">(ec)</text>
</g>
<rect x="0.5" y="0.5" width="1199" height="1036" fill="none" stroke="#000" stroke-width="1"/>
</g></svg></body></html>
